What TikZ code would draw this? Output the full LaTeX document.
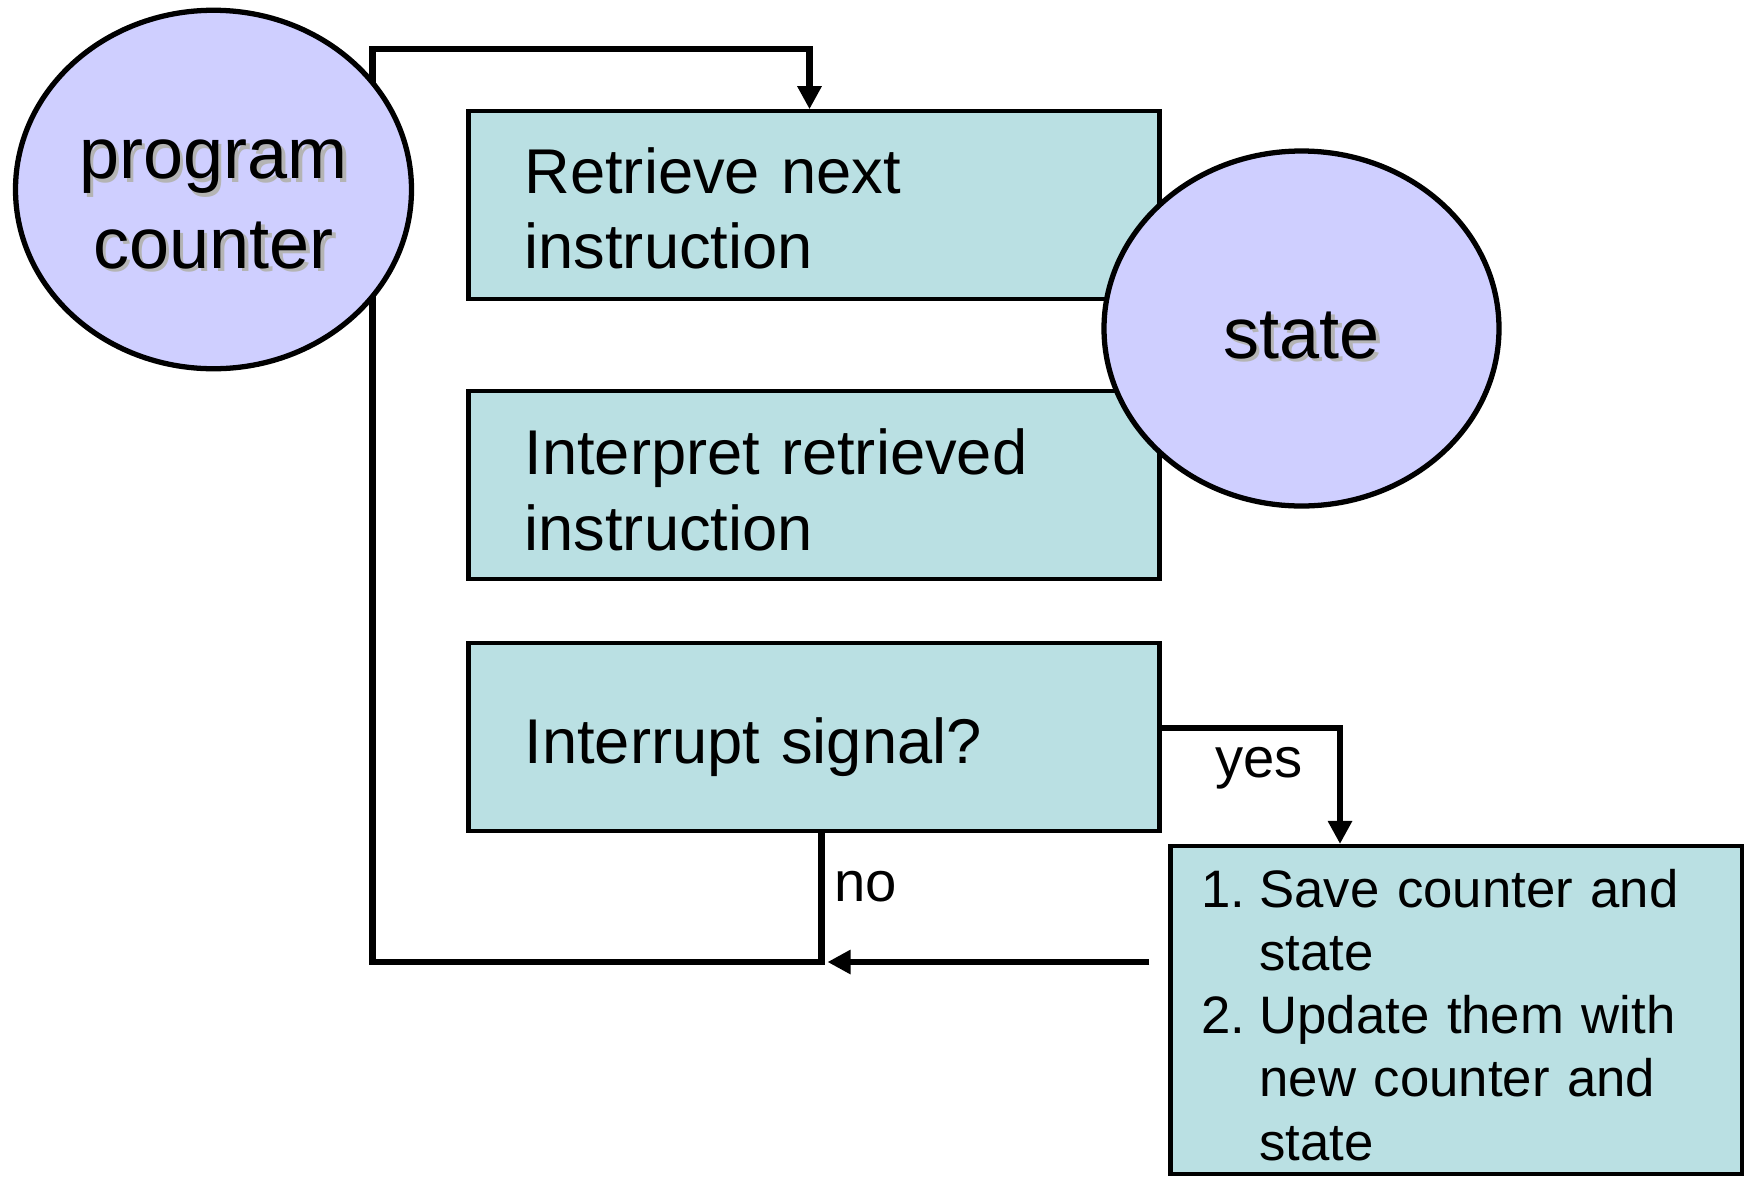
\documentclass[tikz,border=0pt]{standalone}
\usepackage{fontspec}
\setmainfont{Liberation Sans}
\usetikzlibrary{shapes.geometric, positioning, arrows.meta}
\definecolor{boxfill}{RGB}{186,224,227}
\definecolor{ovalfill}{RGB}{207,207,255}
\definecolor{shadowgray}{RGB}{180,180,180}
% text with a soft gray copy behind it
\newcommand{\shadowed}[1]{\makebox[0pt][l]{\hspace{2pt}\raisebox{-2pt}{\textcolor{shadowgray}{\begin{tabular}{@{}c@{}}#1\end{tabular}}}}\begin{tabular}{@{}c@{}}#1\end{tabular}}
% move the ink down, keep the box where it is
\newcommand{\sinktext}[2]{\raisebox{-#1}[\height][\depth]{#2}}
\tikzset{
task/.style={draw, line width=2.3pt, fill=boxfill, text width=11.58cm, inner xsep=1.12cm, minimum height=3.75cm, align=left, font=\fontsize{36}{43}\selectfont}, % the three steps of the cycle
savebox/.style={draw, line width=2.3pt, fill=boxfill, text width=10.18cm, inner xsep=0.62cm, minimum height=6.51cm, align=left, font=\fontsize{30}{36}\selectfont}, % the interrupt handling box
oval/.style={ellipse, draw, line width=3pt, fill=ovalfill, inner sep=0pt, font=\fontsize{41}{51}\selectfont}, % program counter and state
flow/.style={line width=3.9pt}, % connectors
tip/.style={-{Triangle[length=0.46cm, width=0.46cm]}}, % arrow heads
tag/.style={inner sep=0pt, font=\fontsize{32}{38}\selectfont}, % yes / no
}

\begin{document}
\begin{tikzpicture}
\useasboundingbox (0,0) rectangle (34.96,-23.52);

\node[task] at (16.28,-4.10) (retrieve) {\sinktext{0.07cm}{Retrieve next}\\\sinktext{0.07cm}{instruction}};
\node[task] at (16.28,-9.70) (interpret) {\sinktext{0.1cm}{Interpret retrieved}\\\sinktext{0.1cm}{instruction}};
\node[task] at (16.28,-14.74) (interrupt) {\sinktext{0.2cm}{Interrupt signal?}};
\node[savebox] at (29.12,-20.20) (save) {\sinktext{0.22cm}{\begin{tabular}{@{}l@{\hspace{8pt}}l@{}}
1. & Save counter and\\
 & state\\
2. & Update them with\\
 & new counter and\\
 & state
\end{tabular}}};

\coordinate (merge) at (16.43,-19.24);
\coordinate (looptop) at (7.45,-0.98);

\draw[flow, tip] (interrupt.south -| merge) -- (merge) -| (looptop) -| ([xshift=-0.09cm]retrieve.north);
\draw[flow, tip] ([yshift=0.18cm]interrupt.east) -| ([xshift=-2.32cm]save.north);
\draw[flow, tip] ([xshift=-0.38cm]save.west |- merge) -- ([xshift=0.12cm]merge);

\node[oval, minimum width=7.92cm, minimum height=7.17cm] at (4.27,-3.79) (pc) {\sinktext{0.36cm}{\shadowed{program\\counter}}};
\node[oval, minimum width=7.9cm, minimum height=7.1cm] at (26.03,-6.57) (state) {\sinktext{0.27cm}{\shadowed{state}}};

\node[tag, anchor=base west] at (24.3,-15.54) (yes) {yes};
\node[tag, anchor=base west] at (16.68,-18.02) (no) {no};

\end{tikzpicture}
\end{document}
